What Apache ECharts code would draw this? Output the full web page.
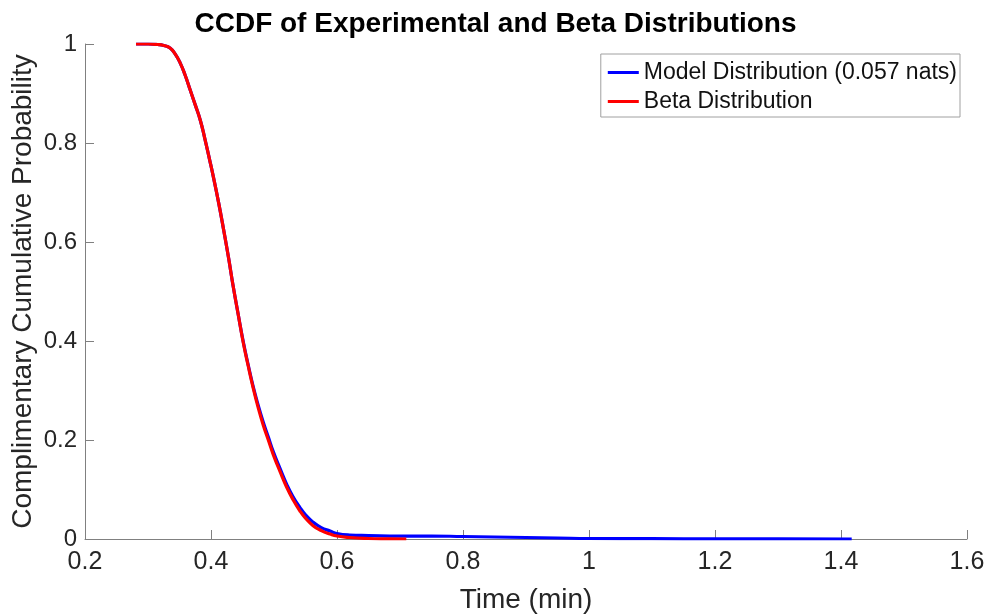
<!DOCTYPE html>
<html>
<head>
<meta charset="utf-8">
<script src="https://cdn.jsdelivr.net/npm/echarts@6/dist/echarts.min.js"></script>
<style>html,body{margin:0;padding:0;background:#fff}#c{width:991px;height:616px}</style>
</head>
<body>
<div id="c"></div>
<script>
var modelX = [0.281,0.30,0.315,0.325,0.335,0.343,0.351,0.359,0.367,0.375,0.383,0.390,0.398,0.404,0.412,0.420,0.428,0.435,0.443,0.451,0.459,0.467,0.475,0.483,0.491,0.499,0.51,0.52,0.53,0.541,0.55,0.562,0.575,0.589,0.60,0.62,0.65,0.70,0.75,0.80,0.85,0.90,0.95,1.00,1.10,1.20,1.30,1.417];
var modelY = [1.0,1.0,0.999,0.997,0.992,0.980,0.962,0.937,0.907,0.877,0.846,0.810,0.765,0.730,0.680,0.625,0.567,0.512,0.455,0.400,0.352,0.308,0.270,0.236,0.206,0.176,0.141,0.111,0.086,0.064,0.049,0.034,0.023,0.016,0.011,0.008,0.007,0.006,0.006,0.005,0.004,0.003,0.002,0.001,0.0006,0.0003,0.0001,0.0];
var betaX = [0.281,0.30,0.315,0.325,0.335,0.343,0.351,0.359,0.367,0.375,0.383,0.390,0.398,0.404,0.412,0.420,0.428,0.435,0.443,0.451,0.459,0.467,0.475,0.483,0.491,0.499,0.51,0.52,0.53,0.541,0.55,0.562,0.575,0.589,0.60,0.62,0.65,0.68,0.71];
var betaY = [1.0,1.0,0.999,0.997,0.992,0.980,0.962,0.937,0.907,0.877,0.846,0.810,0.765,0.730,0.680,0.625,0.567,0.512,0.455,0.398,0.350,0.305,0.265,0.230,0.200,0.170,0.135,0.105,0.080,0.057,0.042,0.027,0.017,0.010,0.006,0.003,0.001,0.0003,0.0];
var seriesNames = ['Model Distribution (0.057 nats)', 'Beta Distribution'];
var titleText = 'CCDF of Experimental and Beta Distributions';
var xName = 'Time (min)';
var yName = 'Complimentary Cumulative Probability';

function pairs(xs, ys){ return xs.map(function(x,i){ return [x, ys[i]]; }); }

var chart = echarts.init(document.getElementById('c'));
var FONT = '"Liberation Sans", Arial, sans-serif';
var axisCol = '#808080';
var txtCol = '#262626';
chart.setOption({
  animation: false,
  textStyle: {fontFamily: FONT},
  title: {
    text: titleText, left: 'center', top: 5,
    textStyle: {fontFamily: FONT, fontWeight: 'bold', fontSize: 28, color: '#000'}
  },
  grid: {left: 85, right: 24, top: 44, bottom: 77, containLabel: false, outerBoundsMode: 'none'},
  legend: {
    orient: 'vertical', right: 31, top: 54,
    backgroundColor: '#fff', borderColor: '#a0a0a0', borderWidth: 1,
    padding: [7, 3, 4, 7], itemGap: 6,
    itemWidth: 31, itemHeight: 3, icon: 'rect',
    textStyle: {fontFamily: FONT, fontSize: 23, color: '#111'},
    data: [{name: seriesNames[0], itemStyle:{color:'#0000ff'}}, {name: seriesNames[1], itemStyle:{color:'#ff0000'}}]
  },
  xAxis: {
    type: 'value', min: 0.2, max: 1.6, interval: 0.2,
    name: xName, nameLocation: 'middle', nameGap: 47, nameMoveOverlap: false,
    nameTextStyle: {fontFamily: FONT, fontSize: 28, color: txtCol},
    axisLine: {show: true, lineStyle: {color: axisCol, width: 1}},
    axisTick: {show: true, inside: true, length: 9, lineStyle: {color: axisCol}},
    axisLabel: {fontFamily: FONT, fontSize: 25, color: txtCol, margin: 11,
      formatter: function(v){ return String(Math.round(v*10)/10); }},
    splitLine: {show: false}
  },
  yAxis: {
    type: 'value', min: 0, max: 1, interval: 0.2,
    name: yName, nameLocation: 'middle', nameGap: 48, nameMoveOverlap: false,
    nameTextStyle: {fontFamily: FONT, fontSize: 28, color: txtCol},
    axisLine: {show: true, lineStyle: {color: axisCol, width: 1}},
    axisTick: {show: true, inside: true, length: 9, lineStyle: {color: axisCol}},
    axisLabel: {fontFamily: FONT, fontSize: 24, color: txtCol, margin: 8,
      formatter: function(v){ return String(Math.round(v*10)/10); }},
    splitLine: {show: false}
  },
  series: [
    {name: seriesNames[0], type: 'line', data: pairs(modelX, modelY), showSymbol: false, smooth: 0.5,
     lineStyle: {color: '#0000ff', width: 3.2, join: 'round'}, itemStyle: {color: '#0000ff'}, z: 2},
    {name: seriesNames[1], type: 'line', data: pairs(betaX, betaY), showSymbol: false, smooth: 0.5,
     lineStyle: {color: '#ff0000', width: 3.2, join: 'round'}, itemStyle: {color: '#ff0000'}, z: 3}
  ]
});
</script>
</body>
</html>
